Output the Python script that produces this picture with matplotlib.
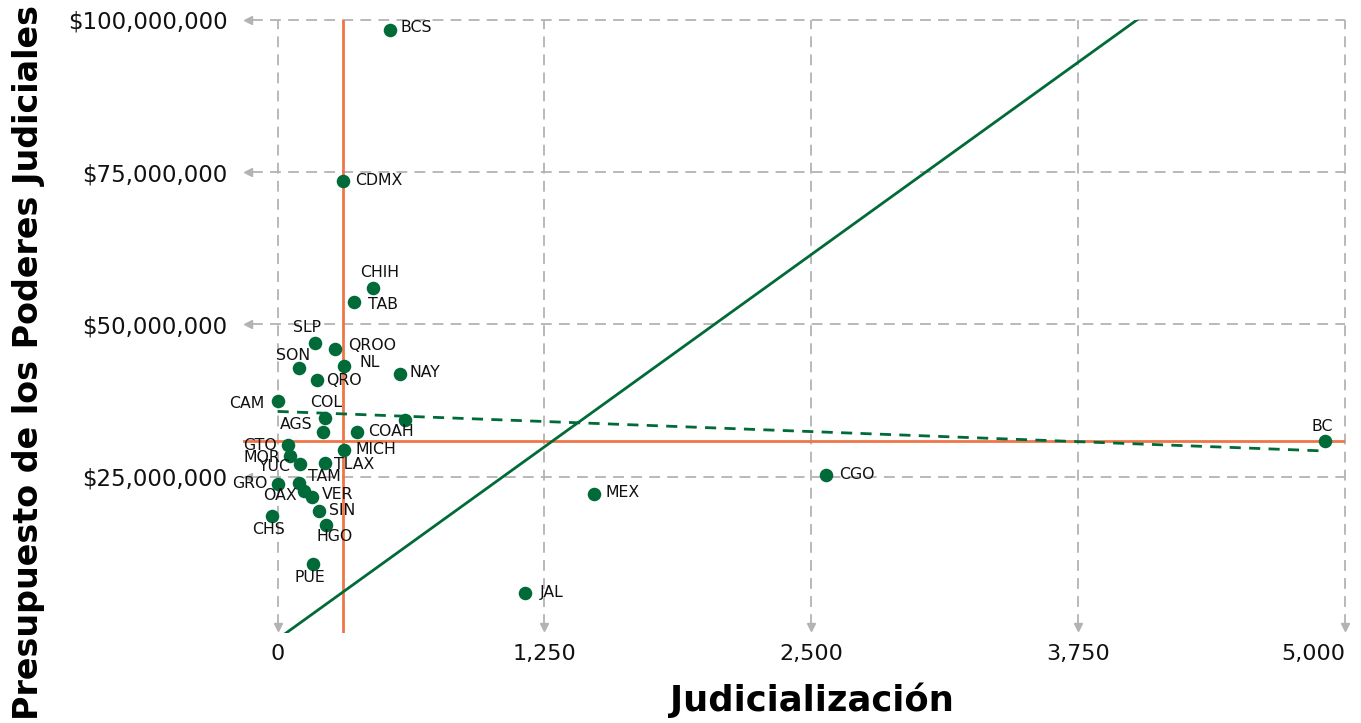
import matplotlib
matplotlib.use('Agg')
import matplotlib.pyplot as plt
from matplotlib.ticker import FuncFormatter

# ---------------- data ----------------
states = ['BCS', 'CDMX', 'CHIH', 'TAB', 'SLP', 'QROO', 'SON', 'NL', 'NAY', 'QRO',
          'CAM', 'COL', 'ZAC', 'AGS', 'COAH', 'BC', 'GTO', 'MICH', 'MOR', 'YUC',
          'TLAX', 'GRO', 'TAM', 'OAX', 'VER', 'SIN', 'HGO', 'CHS', 'PUE', 'MEX',
          'CGO', 'JAL']
judicializacion = [526, 306, 446, 357, 175, 268, 100, 310, 573, 184,
                   1, 221, 599, 211, 373, 4906, 47, 310, 58, 104,
                   220, 0, 100, 123, 159, 195, 229, -25, 164, 1481,
                   2570, 1158]
presupuesto = [98.4e6, 73.6e6, 55.9e6, 53.6e6, 47.0e6, 46.0e6, 42.9e6, 43.2e6, 41.9e6, 40.9e6,
               37.4e6, 34.7e6, 34.3e6, 32.4e6, 32.4e6, 30.8e6, 30.2e6, 29.3e6, 28.3e6, 27.0e6,
               27.2e6, 23.8e6, 24.0e6, 22.7e6, 21.7e6, 19.3e6, 17.1e6, 18.5e6, 10.7e6, 22.2e6,
               25.2e6, 5.9e6]
shown_labels = [s for s in states if s != 'ZAC']

ref_x = 307          # vertical reference line
ref_y = 30.8e6       # horizontal reference line
trend_x = [20, 4100]
trend_y = [-1.2e6, 101.9e6]
fit_x = [0, 4906]
fit_y = [35.7e6, 29.2e6]

xticks = [0, 1250, 2500, 3750, 5000]
yticks = [25e6, 50e6, 75e6, 100e6]
x_title = 'Judicialización'
y_title = 'Presupuesto de los Poderes Judiciales'

# ---------------- style ----------------
GREEN = '#006a38'
ORANGE = '#ef7548'
GRID = '#b3b3b3'
FONT = 'DejaVu Sans'
plt.rcParams['font.family'] = [FONT]

# label offsets in pixels (dx, dy-down, ha)
label_pos = {
    'BCS': (11, -2, 'left'), 'CDMX': (12, 0, 'left'), 'CHIH': (7, -16, 'center'),
    'TAB': (14, 2, 'left'), 'SLP': (-8, -15, 'center'), 'QROO': (13, -3, 'left'),
    'SON': (-6, -12, 'center'), 'NL': (16, -3, 'left'), 'NAY': (10, -1, 'left'),
    'QRO': (9, 1, 'left'), 'CAM': (-13, 2, 'right'), 'COL': (1, -15, 'center'),
    'AGS': (-10, -7, 'right'), 'COAH': (11, 0, 'left'), 'GTO': (-11, 1, 'right'),
    'MICH': (12, -1, 'left'), 'MOR': (-10, 1, 'right'), 'YUC': (-10, 2, 'right'),
    'TLAX': (9, 1, 'left'), 'TAM': (9, -6, 'left'), 'GRO': (-10, 0, 'right'),
    'OAX': (-7, 5, 'right'), 'VER': (10, -2, 'left'), 'SIN': (10, -1, 'left'),
    'HGO': (8, 12, 'center'), 'CHS': (-4, 13, 'center'), 'PUE': (-3, 14, 'center'),
    'MEX': (12, -1, 'left'), 'CGO': (13, -1, 'left'), 'JAL': (15, 0, 'left'),
    'BC': (-3, -15, 'center'),
}

W, H, DPI = 1361, 723, 100
fig = plt.figure(figsize=(W / DPI, H / DPI), dpi=DPI)
ax = fig.add_axes([243 / W, 1 - 633 / H, (1345 - 243) / W, (633 - 20) / H])
XMIN, XMAX = -162, 5000
YMIN, YMAX = -0.7e6, 100e6
ax.set_xlim(XMIN, XMAX)
ax.set_ylim(YMIN, YMAX)
for s in ax.spines.values():
    s.set_visible(False)

# grid with arrowheads
for xv in xticks:
    ax.plot([xv, xv], [0.6e6, YMAX], color=GRID, lw=1.3, ls=(0, (6, 4)), zorder=1, clip_on=False)
    ax.plot([xv], [0.3e6], marker='v', color=GRID, ms=6, zorder=1, clip_on=False)
for yv in yticks:
    ax.plot([XMIN + 40, XMAX], [yv, yv], color=GRID, lw=1.3, ls=(0, (6, 4)), zorder=1, clip_on=False)
    ax.plot([XMIN + 25], [yv], marker='<', color=GRID, ms=6, zorder=1, clip_on=False)

# reference lines
ax.axvline(ref_x, color=ORANGE, lw=2, zorder=2)
ax.axhline(ref_y, color=ORANGE, lw=2, zorder=2)

# trend lines
ax.plot(trend_x, trend_y, color=GREEN, lw=2, zorder=3)
ax.plot(fit_x, fit_y, color=GREEN, lw=2, ls=(0, (4, 3)), zorder=3)

# points
ax.scatter(judicializacion, presupuesto, s=95, color=GREEN, zorder=4, linewidths=0, clip_on=False)
for st, xv, yv in zip(states, judicializacion, presupuesto):
    if st not in shown_labels or st not in label_pos:
        continue
    dx, dy, ha = label_pos[st]
    ax.annotate(st, (xv, yv), xytext=(dx * 0.72, -dy * 0.72), textcoords='offset points',
                ha=ha, va='center', fontsize=11.3, color='#111111', zorder=5)

ax.set_xticks(xticks)
ax.set_yticks(yticks)
ax.xaxis.set_major_formatter(FuncFormatter(lambda v, p: f'{v:,.0f}'))
ax.yaxis.set_major_formatter(FuncFormatter(lambda v, p: f'${v:,.0f}'))
ax.tick_params(axis='both', length=0, colors='#111111')
ax.tick_params(axis='y', pad=11, labelsize=16.5)
ax.tick_params(axis='x', pad=8, labelsize=16)
labels = ax.get_xticklabels()
labels[-1].set_horizontalalignment('right')
labels[-1].set_x(5000)

fig.text(812 / W, 1 - 700 / H, x_title, ha='center', va='center', fontsize=25.5, fontweight='heavy')
fig.text(29 / W, 1 - 362 / H, y_title, ha='center', va='center', rotation=90, fontsize=24,
         fontweight='heavy')

fig.savefig('out.png', dpi=DPI)
